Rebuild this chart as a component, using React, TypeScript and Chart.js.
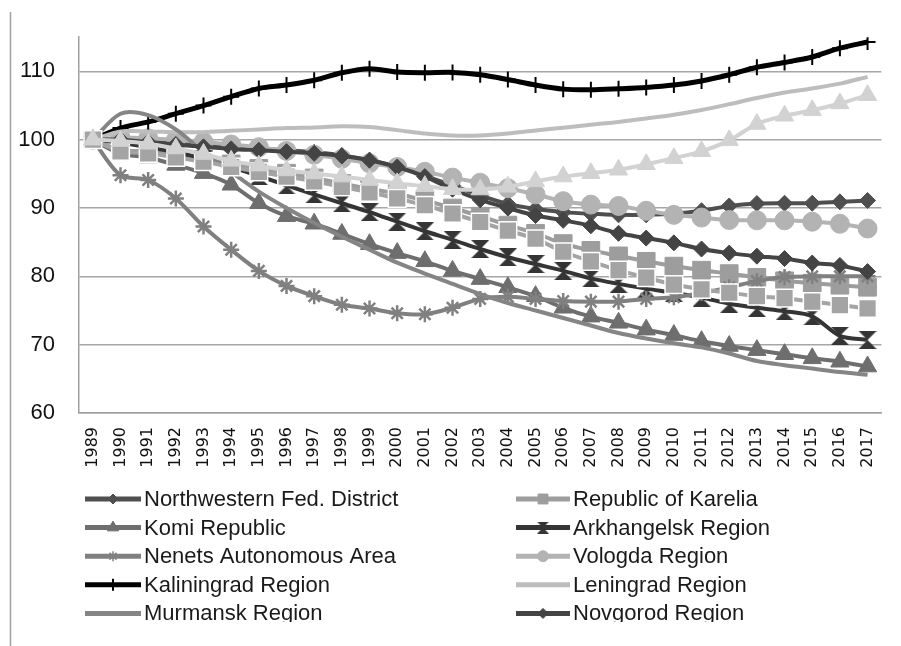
import React, { useEffect, useRef } from 'react';
import { Chart, registerables } from 'chart.js';
import * as helpers from 'chart.js/helpers';

Chart.register(...registerables);

const years = ['1989','1990','1991','1992','1993','1994','1995','1996','1997','1998','1999','2000','2001','2002','2003','2004','2005','2006','2007','2008','2009','2010','2011','2012','2013','2014','2015','2016','2017'];

const nwFedDistrict = [100, 100.1, 99.85, 99.5, 99.15, 98.85, 98.65, 98.45, 98.15, 97.7, 97.0, 96.1, 94.7, 93.3, 91.85, 90.6, 89.85, 89.4, 89.15, 89.0, 89.0, 89.15, 89.6, 90.3, 90.65, 90.7, 90.7, 90.9, 91.1];
const karelia = [100, 98.5, 98.3, 97.7, 97.1, 96.45, 95.8, 95.1, 94.4, 93.6, 92.8, 92.1, 91.1, 90.0, 88.8, 87.5, 86.3, 84.8, 83.8, 83.0, 82.2, 81.5, 80.9, 80.4, 79.85, 79.35, 79.0, 78.7, 78.4];
const komi = [100, 97.95, 97.4, 96.3, 95.1, 93.4, 90.7, 88.8, 87.7, 86.2, 84.7, 83.4, 82.2, 80.8, 79.6, 78.4, 77.1, 75.4, 74.1, 73.2, 72.2, 71.4, 70.5, 69.8, 69.2, 68.6, 68.0, 67.5, 66.8];
const arkhangelsk = [100, 99.55, 98.9, 98.15, 97.2, 96.0, 94.7, 93.3, 92.0, 90.7, 89.4, 88.0, 86.6, 85.35, 84.0, 82.8, 81.8, 80.8, 79.7, 78.9, 78.2, 77.6, 76.9, 76.0, 75.4, 74.9, 74.15, 71.3, 70.7];
const nenets = [100, 94.8, 94.1, 91.4, 87.3, 83.9, 80.8, 78.6, 77.1, 75.85, 75.3, 74.6, 74.45, 75.4, 76.7, 77.0, 76.7, 76.4, 76.3, 76.3, 76.7, 76.95, 77.55, 78.4, 79.3, 79.9, 80.0, 80.0, 80.0];
const vologda = [100, 100.3, 100.2, 99.95, 99.65, 99.3, 98.9, 98.35, 97.8, 97.2, 96.55, 96.0, 95.3, 94.45, 93.7, 92.9, 92.0, 91.0, 90.5, 90.3, 89.6, 89.0, 88.6, 88.25, 88.2, 88.2, 88.0, 87.7, 87.0];
const kaliningrad = [100, 101.7, 102.6, 103.8, 105.0, 106.3, 107.5, 108.0, 108.7, 109.8, 110.4, 109.9, 109.8, 109.85, 109.5, 108.8, 108.0, 107.4, 107.3, 107.45, 107.65, 108.0, 108.6, 109.5, 110.6, 111.3, 112.1, 113.4, 114.3];
const leningrad = [100, 101.2, 101.2, 101.1, 101.1, 101.3, 101.5, 101.7, 101.8, 101.95, 101.85, 101.4, 100.9, 100.6, 100.6, 100.9, 101.35, 101.75, 102.2, 102.6, 103.1, 103.65, 104.35, 105.2, 106.1, 106.9, 107.5, 108.2, 109.2];
const murmansk = [100, 103.8, 103.6, 101.5, 98.2, 95.3, 92.4, 90.0, 87.8, 85.8, 83.9, 82.0, 80.4, 78.9, 77.4, 76.1, 75.0, 73.9, 72.8, 71.7, 70.9, 70.2, 69.6, 68.7, 67.6, 67.0, 66.5, 66.0, 65.6];
const novgorod = [100, 100.0, 99.65, 99.3, 98.95, 98.65, 98.45, 98.25, 98.0, 97.6, 97.0, 96.0, 94.6, 92.75, 91.2, 90.0, 88.9, 88.2, 87.4, 86.3, 85.6, 84.9, 84.0, 83.4, 82.95, 82.6, 81.95, 81.6, 80.7];
const pskov = [100, 98.3, 98.0, 97.4, 96.8, 96.0, 95.3, 94.6, 93.9, 93.1, 92.3, 91.4, 90.4, 89.2, 87.95, 86.7, 85.5, 83.6, 82.2, 80.9, 79.8, 78.8, 78.1, 77.6, 77.1, 76.8, 76.3, 75.8, 75.3];
const stPetersburg = [100, 99.8, 99.4, 98.7, 97.9, 96.9, 96.2, 95.5, 95.05, 94.6, 94.1, 93.6, 93.2, 92.75, 92.7, 93.1, 93.9, 94.6, 95.1, 95.6, 96.4, 97.3, 98.3, 99.9, 102.3, 103.5, 104.3, 105.3, 106.5];

const seriesNames = ['Northwestern Fed. District', 'Republic of Karelia', 'Komi Republic', 'Arkhangelsk Region', 'Nenets Autonomous Area', 'Vologda Region', 'Kaliningrad Region', 'Leningrad Region', 'Murmansk Region', 'Novgorod Region', 'Pskov Region', 'St. Petersburg'];
const yTicks = [60, 70, 80, 90, 100, 110];

function makeHourglass(color: string, size: number) {
  const c = document.createElement('canvas');
  c.width = size;
  c.height = size;
  const g = c.getContext('2d')!;
  g.fillStyle = color;
  g.beginPath();
  g.moveTo(0, 0);
  g.lineTo(size, 0);
  g.lineTo(size / 2, size / 2);
  g.lineTo(size, size);
  g.lineTo(0, size);
  g.lineTo(size / 2, size / 2);
  g.closePath();
  g.fill();
  return c;
}

export default function App() {
  const ref = useRef<HTMLCanvasElement>(null);

  useEffect(() => {
    const canvas = ref.current!;
    const hourglass = makeHourglass('#353535', 18);
    const hourglassSmall = makeHourglass('#353535', 12);

    const series: any[] = [
      { data: nwFedDistrict, color: '#4f4f4f', style: 'rectRot', r: 8, lr: 5, lw: 4 },
      { data: karelia, color: '#9d9d9d', style: 'rect', r: 12.5, lr: 7, lw: 4 },
      { data: komi, color: '#6e6e6e', style: 'triangle', r: 10.5, lr: 6.5, lw: 4 },
      { data: arkhangelsk, color: '#353535', style: hourglass, legendStyle: hourglassSmall, r: 9, lr: 6, lw: 4 },
      { data: nenets, color: '#808080', style: 'star', r: 8, lr: 5, lw: 4, pbw: 2.5, lbw: 1.5 },
      { data: vologda, color: '#b3b3b3', style: 'circle', r: 9.5, lr: 5.5, lw: 4 },
      { data: kaliningrad, color: '#000000', style: 'cross', r: 8, lr: 6, lw: 5, pbw: 2, lbw: 2 },
      { data: leningrad, color: '#bdbdbd', style: false, r: 0, lr: 0, lw: 4 },
      { data: murmansk, color: '#858585', style: false, r: 0, lr: 0, lw: 4 },
      { data: novgorod, color: '#444444', style: 'rectRot', r: 8, lr: 5, lw: 4 },
      { data: pskov, color: '#a4a4a4', style: 'rect', r: 12.5, lr: 7, lw: 4, pbc: '#ffffff', pbw: 1.5 },
      { data: stPetersburg, color: '#d2d2d2', style: 'triangle', r: 10.5, lr: 6.5, lw: 4 },
    ];

    const datasets = series.map((s, i) => ({
      label: seriesNames[i],
      data: s.data,
      borderColor: s.color,
      backgroundColor: s.color,
      borderWidth: s.lw,
      pointStyle: s.style || 'circle',
      pointRadius: s.r,
      pointHoverRadius: s.r,
      pointBackgroundColor: s.color,
      pointBorderColor: s.pbc || s.color,
      pointBorderWidth: s.pbw ?? 1,
      tension: 0.3,
      order: series.length - i,
    }));

    const legendPlugin = {
      id: 'customLegend',
      afterDraw(chart: any) {
        const ctx = chart.ctx as CanvasRenderingContext2D;
        ctx.save();
        ctx.beginPath();
        ctx.rect(0, 0, 901, 622);
        ctx.clip();
        series.forEach((s, i) => {
          const row = Math.floor(i / 2);
          const col = i % 2;
          const cy = 499 + row * 28.6;
          const x0 = col ? 516 : 85;
          const x1 = col ? 570 : 141;
          const tx = col ? 573 : 144;
          ctx.strokeStyle = s.color;
          ctx.lineWidth = 5;
          ctx.beginPath();
          ctx.moveTo(x0, cy);
          ctx.lineTo(x1, cy);
          ctx.stroke();
          if (s.style) {
            ctx.fillStyle = s.color;
            ctx.strokeStyle = s.pbc || s.color;
            ctx.lineWidth = s.lbw ?? 1;
            const st = s.legendStyle || s.style;
            helpers.drawPoint(ctx, { pointStyle: st, radius: s.lr, rotation: 0, borderWidth: s.lbw ?? 1 } as any, (x0 + x1) / 2, cy);
          }
          ctx.fillStyle = '#1a1a1a';
          ctx.font = '22px "Liberation Sans", Arial, sans-serif';
          ctx.textAlign = 'left';
          ctx.textBaseline = 'middle';
          ctx.fillText(seriesNames[i], tx, cy + 1);
        });
        ctx.restore();
        ctx.save();
        ctx.strokeStyle = '#a0a0a0';
        ctx.lineWidth = 1.5;
        ctx.beginPath();
        ctx.moveTo(10.5, 12);
        ctx.lineTo(10.5, 646);
        ctx.stroke();
        ctx.restore();
      },
    };

    const chart = new Chart(canvas, {
      type: 'line',
      data: { labels: years, datasets },
      options: {
        responsive: false,
        devicePixelRatio: 1,
        animation: false,
        layout: { padding: { top: 37, left: 0, right: 0, bottom: 173 } },
        plugins: { legend: { display: false }, tooltip: { enabled: false } },
        scales: {
          x: {
            offset: true,
            afterFit: (s: any) => { s.height = 60; },
            grid: { display: false, drawTicks: false },
            border: { display: true, color: '#a0a0a0', width: 1.5 },
            ticks: {
              autoSkip: false,
              minRotation: 90,
              maxRotation: 90,
              padding: 14,
              color: '#111111',
              font: { family: 'DejaVu Sans', size: 16 },
            },
          },
          y: {
            min: 60,
            max: 115,
            afterBuildTicks: (s: any) => { s.ticks = yTicks.map((v) => ({ value: v })); },
            afterFit: (s: any) => { s.width = 79; },
            grid: { color: '#a6a6a6', lineWidth: 1.5, drawTicks: false },
            border: { display: true, color: '#a0a0a0', width: 1.5 },
            ticks: {
              padding: 24,
              color: '#111111',
              font: { family: '"Liberation Sans", Arial, sans-serif', size: 22 },
            },
          },
        },
      },
      plugins: [legendPlugin],
    });
    return () => chart.destroy();
  }, []);

  return (
    <div style={{ position: 'fixed', left: 0, top: 0, width: 901, height: 646, background: '#ffffff' }}>
      <canvas ref={ref} width={901} height={646} style={{ width: 901, height: 646, display: 'block' }} />
    </div>
  );
}
